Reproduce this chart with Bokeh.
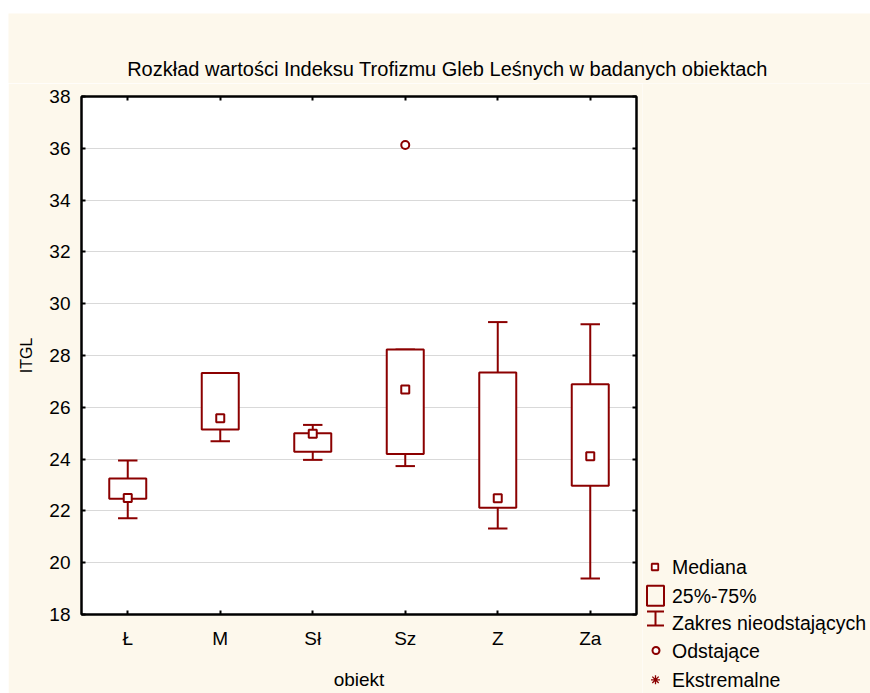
from bokeh.plotting import figure
from bokeh.layouts import column, row
from bokeh.models import (ColumnDataSource, FixedTicker, LinearAxis, CategoricalAxis, Range1d)
from bokeh.core.properties import value
from bokeh.transform import dodge
from bokeh.embed import file_html
from bokeh.resources import INLINE

# ---------------- data ----------------
categories = ["Ł", "M", "Sł", "Sz", "Z", "Za"]
q1_values = [22.47, 25.14, 24.28, 24.20, 22.12, 22.97]
q3_values = [23.25, 27.32, 25.00, 28.23, 27.34, 26.89]
median_values = [22.50, 25.58, 24.98, 26.69, 22.49, 24.11]
lower_values = [21.72, 24.69, 23.97, 23.73, 21.32, 19.39]
upper_values = [23.95, 27.32, 25.32, 28.23, 29.29, 29.21]
outlier_categories = ["Sz"]
outlier_values = [36.13]
y_ticks = [18, 20, 22, 24, 26, 28, 30, 32, 34, 36, 38]

title_text = "Rozkład wartości Indeksu Trofizmu Gleb Leśnych w badanych obiektach"
x_title = "obiekt"
y_title = "ITGL"
legend_labels = ["Mediana", "25%-75%", "Zakres nieodstających", "Odstające", "Ekstremalne"]

RED = "#8B0000"
CREAM = "#FDF8EC"
FONT = "Liberation Sans"

# page geometry (px, page coordinates)
PAGE_L, PAGE_T, PAGE_R, PAGE_B = 8, 13, 870, 693
SPLIT_Y = 83          # title strip / plot boundary
SPLIT_X = 642         # plot / legend boundary
FL, FT, FW, FH = 73, 13, 555, 518   # frame inside main figure


def no_align(f):
    try:
        f.frame_align = False
    except Exception:
        pass


def blank_fig(x0, x1, y0, y1):
    f = figure(width=x1 - x0, height=y1 - y0, x_range=Range1d(x0, x1), y_range=Range1d(y1, y0),
               x_axis_type=None, y_axis_type=None, min_border=0,
               output_backend="svg", toolbar_location=None)
    f.outline_line_color = None
    f.background_fill_color = CREAM
    f.border_fill_color = CREAM
    no_align(f)
    return f

# ---------------- title strip ----------------
tf = blank_fig(PAGE_L, PAGE_R, PAGE_T, SPLIT_Y)
tf.text(x=[447], y=[68.7], text=[title_text], text_align="center", text_baseline="middle",
        text_font=value(FONT), text_font_size=value("20px"), text_color="black")

# ---------------- main plot ----------------
MW = SPLIT_X - PAGE_L
MH = PAGE_B - SPLIT_Y
p = figure(x_range=categories, y_range=(y_ticks[0], y_ticks[-1]),
           width=MW, height=MH, output_backend="svg", toolbar_location=None,
           min_border_left=FL, min_border_top=FT,
           min_border_right=MW - FL - FW, min_border_bottom=MH - FT - FH)
no_align(p)
p.border_fill_color = CREAM
p.background_fill_color = "white"
p.outline_line_color = "black"
p.outline_line_width = 2

p.yaxis.ticker = FixedTicker(ticks=y_ticks)
for ax in (p.xaxis[0], p.yaxis[0]):
    ax.major_tick_in = 4
    ax.major_tick_out = 0
    ax.minor_tick_in = 0
    ax.minor_tick_out = 0
    ax.axis_line_width = 2
    ax.axis_line_color = "black"
    ax.major_tick_line_width = 2
    ax.major_tick_line_color = "black"
    ax.major_label_text_font = FONT
    ax.major_label_text_font_size = "19px"
    ax.major_label_text_color = "black"
    ax.axis_label_text_font = FONT
    ax.axis_label_text_font_style = "normal"
    ax.axis_label_text_color = "black"
p.xaxis.axis_label = x_title
p.xaxis.axis_label_text_font_size = "19px"
p.xaxis.major_label_standoff = 13
p.xaxis.axis_label_standoff = 17
p.yaxis.axis_label = y_title
p.yaxis.axis_label_text_font_size = "16px"
p.yaxis.major_label_standoff = 11
p.yaxis.axis_label_standoff = 11

right_ax = LinearAxis(ticker=FixedTicker(ticks=y_ticks), major_tick_in=4, major_tick_out=0,
                      minor_tick_in=0, minor_tick_out=0, axis_line_width=2,
                      major_tick_line_width=2, major_label_standoff=0,
                      major_label_text_font_size="0px", major_label_text_color=None)
top_ax = CategoricalAxis(major_tick_in=4, major_tick_out=0, axis_line_width=2,
                         major_tick_line_width=2, major_label_standoff=0,
                         major_label_text_font_size="0px", major_label_text_color=None)
p.add_layout(right_ax, "right")
p.add_layout(top_ax, "above")

p.xgrid.visible = False
p.ygrid.ticker = FixedTicker(ticks=y_ticks)
p.ygrid.grid_line_color = "#d9d9d9"
p.ygrid.grid_line_width = 1.2

src = ColumnDataSource(dict(cat=categories, q1=q1_values, q3=q3_values,
                            med=median_values, lo=lower_values, hi=upper_values))
p.segment(x0="cat", y0="q3", x1="cat", y1="hi", source=src, line_color=RED, line_width=2)
p.segment(x0="cat", y0="q1", x1="cat", y1="lo", source=src, line_color=RED, line_width=2)
for key in ("hi", "lo"):
    p.segment(x0=dodge("cat", -0.105, range=p.x_range), y0=key,
              x1=dodge("cat", 0.105, range=p.x_range), y1=key,
              source=src, line_color=RED, line_width=2)
p.vbar(x="cat", width=0.4, bottom="q1", top="q3", source=src,
       fill_color="white", line_color=RED, line_width=2)
p.scatter(x="cat", y="med", source=src, marker="square", size=8,
          fill_color="white", line_color=RED, line_width=2)
p.scatter(x=outlier_categories, y=outlier_values, marker="circle", size=8,
          fill_color="white", line_color=RED, line_width=2)

# ---------------- legend panel ----------------
lf = blank_fig(SPLIT_X, PAGE_R, SPLIT_Y, PAGE_B)
ICON_X = 655
TEXT_X = 671.5
row_y = [566.5, 595.3, 618, 650, 679.3]
# Mediana
lf.scatter(x=[ICON_X - 0.5], y=[row_y[0]], marker="square", size=6.5,
           fill_color="white", line_color=RED, line_width=1.8)
# 25%-75%
lf.quad(left=[ICON_X - 8.5], right=[ICON_X + 8.5], top=[row_y[1] - 10], bottom=[row_y[1] + 10],
        fill_color=None, line_color=RED, line_width=2)
# Zakres nieodstajacych (I-beam)
lf.segment(x0=[ICON_X, ICON_X - 8.5, ICON_X - 8.5], x1=[ICON_X, ICON_X + 8.5, ICON_X + 8.5],
           y0=[row_y[2] - 7, row_y[2] - 7, row_y[2] + 7], y1=[row_y[2] + 7, row_y[2] - 7, row_y[2] + 7],
           line_color=RED, line_width=2)
# Odstajace
lf.scatter(x=[ICON_X + 0.5], y=[row_y[3]], marker="circle", size=7,
           fill_color="white", line_color=RED, line_width=2)
# Ekstremalne
lf.scatter(x=[ICON_X], y=[row_y[4]], marker="asterisk", size=9,
           line_color=RED, line_width=1.3)
text_y = [566.5, 595.3, 622, 650, 679.3]
lf.text(x=[TEXT_X] * len(legend_labels), y=text_y, text=legend_labels,
        text_align="left", text_baseline="middle",
        text_font=value(FONT), text_font_size=value("19.5px"), text_color="black")

layout = column(tf, row(p, lf))
layout.margin = (PAGE_T, 0, 0, PAGE_L)

open("out.html", "w").write(file_html(layout, INLINE))
